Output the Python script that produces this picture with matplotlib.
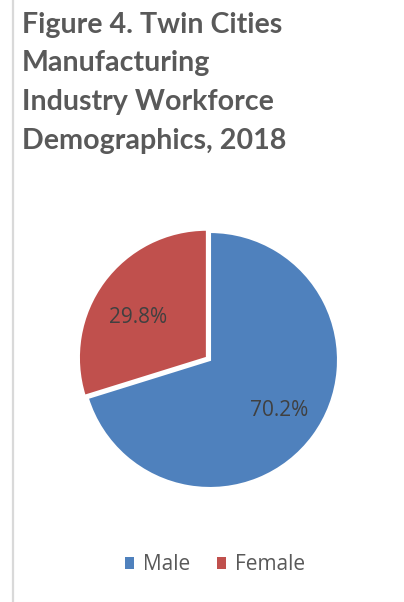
import matplotlib
matplotlib.use("Agg")
import matplotlib.pyplot as plt
from matplotlib.lines import Line2D
from matplotlib.patches import Patch

categories = ["Male", "Female"]
shares = [70.2, 29.8]
colors = ["#4F81BD", "#C0504D"]
explode = [0.0, 0.03]
title_lines = ["Figure 4. Twin Cities", "Manufacturing", "Industry Workforce", "Demographics, 2018"]

W, H = 404, 602
fig = plt.figure(figsize=(W / 100, H / 100), dpi=100)
fig.patch.set_facecolor("white")

# left border
fig.add_artist(Line2D([12.8 / W, 12.8 / W], [0, 1], color="#D9D9D9", lw=1.6))
fig.add_artist(Line2D([12.5 / W, 1], [0.5 / H, 0.5 / H], color="#F2F2F2", lw=0.8))

# title
baselines = [33, 71.5, 110, 149]
for t, y in zip(title_lines, baselines):
    fig.text(22 / W, 1 - y / H, t, fontsize=20.6, fontweight="bold", family="Lato",
             color="#595959", ha="left", va="baseline")

# pie
cx, cy, R = 210, 360, 128
lim = 1.2
side = 2 * lim * R
ax = fig.add_axes([(cx - side / 2) / W, (H - cy - side / 2) / H, side / W, side / H])
wedges, texts, autotexts = ax.pie(
    shares, colors=colors, explode=explode, startangle=90, counterclock=False,
    autopct="%.1f%%", pctdistance=0.67,
    wedgeprops=dict(edgecolor="white", linewidth=1.5),
    textprops=dict(fontsize=15, color="#404040", family="Open Sans"))
# small nudge of the female label, as in the original layout
x0, y0 = autotexts[1].get_position()
autotexts[1].set_position((x0, y0 - 0.08))
ax.set_xlim(-lim, lim)
ax.set_ylim(-lim, lim)
ax.set_aspect("equal")
ax.axis("off")

# legend
handles = [Patch(facecolor=c, edgecolor="none") for c in colors]
fig.legend(handles, categories, loc="center", bbox_to_anchor=(215 / W, 1 - 565 / H),
           ncol=2, frameon=False, handlelength=0.45, handleheight=0.45,
           handletextpad=0.45, columnspacing=1.25,
           prop=dict(family="Open Sans", size=15), labelcolor="#595959")

fig.savefig("out.png", dpi=100, facecolor="white")
